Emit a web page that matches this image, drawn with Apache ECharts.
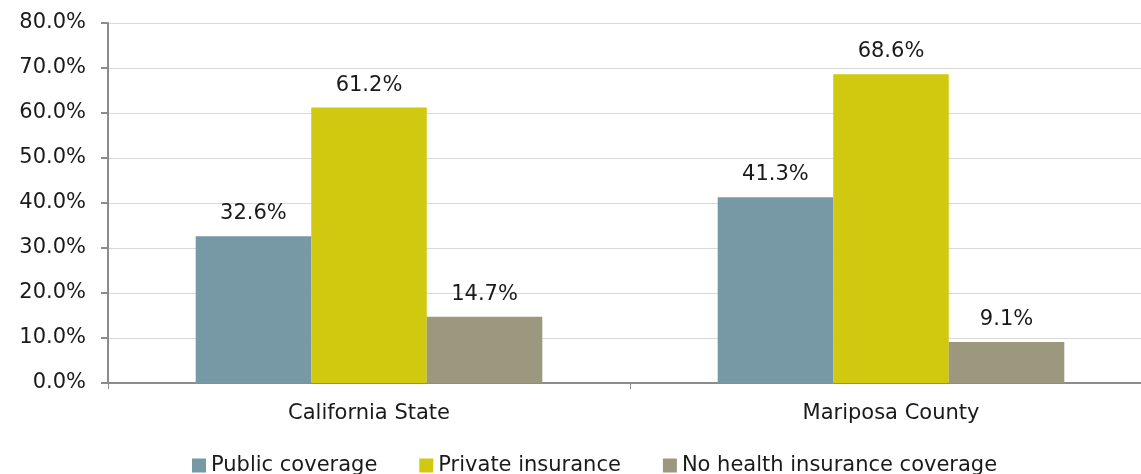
<!DOCTYPE html>
<html>
<head>
<meta charset="utf-8">
<script src="https://cdn.jsdelivr.net/npm/echarts@6/dist/echarts.min.js"></script>
<style>
  html, body { margin: 0; padding: 0; background: #ffffff; overflow: hidden; }
  #chart { width: 1160px; height: 474px; }
</style>
</head>
<body>
<div id="chart"></div>
<script>
// Health insurance coverage by area (percent of population)
const categories = ['California State', 'Mariposa County'];
const seriesNames = ['Public coverage', 'Private insurance', 'No health insurance coverage'];
const publicCoverage = [32.6, 41.3];
const privateInsurance = [61.2, 68.6];
const noCoverage = [14.7, 9.1];
const colors = ['#7799a6', '#d1c90f', '#9c987d'];

const FONT = '"DejaVu Sans", sans-serif';
const TEXT = '#1a1a1a';
const SIZE = 21;

const chart = echarts.init(document.getElementById('chart'), null, { renderer: 'canvas' });

function barSeries(name, values, color) {
  return {
    name: name,
    type: 'bar',
    data: values,
    barGap: '0%',
    barCategoryGap: '33.6%',
    itemStyle: { color: color },
    label: {
      show: true,
      position: 'top',
      distance: 12,
      formatter: p => p.value.toFixed(1) + '%',
      color: TEXT,
      fontFamily: FONT,
      fontSize: SIZE
    }
  };
}

chart.setOption({
  animation: false,
  color: colors,
  // the plot runs slightly past the right edge of the visible window
  grid: { left: 108, right: 8, top: 23, bottom: 91, containLabel: false },
  legend: {
    top: 450,
    left: 187,
    itemWidth: 14,
    itemHeight: 14,
    itemGap: 42,
    icon: 'rect',
    textStyle: { color: TEXT, fontFamily: FONT, fontSize: SIZE },
    data: seriesNames
  },
  xAxis: {
    type: 'category',
    data: categories,
    axisLine: { lineStyle: { color: '#8c8c8c', width: 2 } },
    axisTick: { show: true, length: 6, lineStyle: { color: '#8c8c8c', width: 1 } },
    axisLabel: { color: TEXT, fontFamily: FONT, fontSize: SIZE, margin: 20 }
  },
  yAxis: {
    type: 'value',
    min: 0,
    max: 80,
    interval: 10,
    axisLine: { show: true, lineStyle: { color: '#8c8c8c', width: 2 } },
    axisTick: { show: true, length: 7, lineStyle: { color: '#8c8c8c', width: 2 } },
    splitLine: { show: true, lineStyle: { color: '#d9d9d9', width: 1 } },
    axisLabel: {
      color: TEXT, fontFamily: FONT, fontSize: SIZE, margin: 22,
      formatter: v => v.toFixed(1) + '%'
    }
  },
  series: [
    barSeries(seriesNames[0], publicCoverage, colors[0]),
    barSeries(seriesNames[1], privateInsurance, colors[1]),
    barSeries(seriesNames[2], noCoverage, colors[2])
  ]
});
</script>
</body>
</html>
